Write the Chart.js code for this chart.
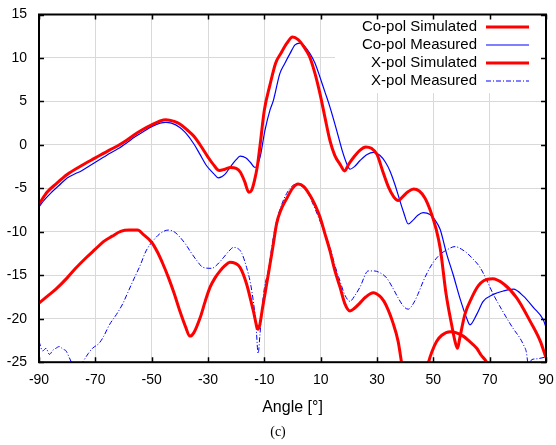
<!DOCTYPE html>
<html><head><meta charset="utf-8">
<script src="https://cdn.jsdelivr.net/npm/chart.js@4.4.0/dist/chart.umd.min.js"></script>
<style>html,body{margin:0;padding:0;background:#fff;}</style>
</head><body>
<canvas id="c" width="556" height="445"></canvas>
<script>
// ---- data (angles in degrees, values in dB) ----
const xTickValues = [-90, -70, -50, -30, -10, 10, 30, 50, 70, 90];
const yTickValues = [-25, -20, -15, -10, -5, 0, 5, 10, 15];
const seriesLabels = ['Co-pol Simulated', 'Co-pol Measured', 'X-pol Simulated', 'X-pol Measured'];

const coSimAngles = [-90,-87,-84,-80,-75,-70,-65,-62,-59,-56,-53,-50,-47,-45,-42,-40,-37,-35,-33,-30,-28,-26,-24,-22,-20,-18.5,-17,-15.5,-14.5,-13.5,-12.5,-11.5,-10,-8,-6,-4,-2,0,2,4,6,8,9.75,11.5,13.3,15,17,18.5,20,22,24,26,28,30,32,34,36,37.5,39,41,43,45,47,49,51,52.5,54.5,56.5,57.7,58.6,59.4,61.2,63.6,66,68,71,75,79.6,84.4,88,90];
const coSimValues = [-6.8,-5.4,-4.5,-3.4,-2.4,-1.5,-0.6,-0.1,0.5,1.2,1.8,2.3,2.75,2.9,2.7,2.4,1.6,1.0,0.1,-1.4,-2.3,-2.95,-2.8,-2.6,-2.7,-3.15,-4.2,-5.45,-5.2,-4.1,-2.5,0.0,4.0,6.9,9.4,10.6,11.7,12.4,12.1,11.3,10.2,8.2,5.9,3.2,0.5,-1.2,-2.3,-3.0,-2.2,-1.3,-0.6,-0.25,-0.4,-1.1,-3.0,-4.8,-6.0,-6.4,-6.0,-5.4,-5.07,-5.3,-6.1,-7.6,-9.7,-12.0,-17.1,-20.7,-22.6,-23.4,-22.2,-19.5,-17.6,-16.2,-15.6,-15.4,-16.0,-17.6,-20.3,-22.6,-24.5];

const coMeasAngles = [-90,-88,-86,-83,-80,-77,-75,-72,-70,-67,-65,-62,-59,-56,-53,-50,-47,-45,-43,-40,-38,-35,-33,-30.5,-28,-26.3,-24,-22,-20,-18.6,-16.5,-15,-13.3,-11.5,-9.8,-8,-6.8,-4.5,-2.7,-0.9,0.9,2.65,4.4,6.2,8,9.75,11.5,13.3,15.7,17.6,19.3,20.4,22,24,26.5,28.7,31,33,34.6,36.5,38.1,39.5,41.1,43,44.5,46.4,48.8,50.5,52.4,54.7,57.1,59.4,61.8,63,65.4,67.7,71.3,74.9,78.4,82,85.5,89,90];
const coMeasValues = [-7.1,-6.3,-5.6,-4.7,-3.8,-3.3,-3.0,-2.4,-2.0,-1.4,-1.0,-0.45,0.2,0.9,1.5,2.1,2.5,2.6,2.5,2.0,1.4,0.1,-1.0,-2.4,-3.3,-3.8,-3.4,-2.5,-1.7,-1.3,-1.5,-2.0,-2.6,-1.4,1.65,4.0,5.1,8.2,9.4,10.5,11.5,11.7,11.3,10.5,9.4,7.8,6.1,4.35,1.65,-0.6,-2.2,-2.8,-2.5,-1.8,-1.1,-0.85,-1.2,-2.0,-3.0,-4.7,-6.4,-7.8,-9.1,-8.6,-8.1,-7.8,-8.0,-8.6,-9.7,-12.5,-15.0,-17.6,-19.9,-20.7,-19.5,-18.0,-17.2,-16.8,-16.6,-17.4,-18.7,-20.1,-21.0];

const xSimAngles = [-90,-87,-84,-80,-77,-73,-70,-67,-64,-61,-58,-55,-53,-50,-48,-46,-44,-42,-40,-38,-36.4,-35,-32.8,-31,-29.3,-27.5,-25.7,-24,-22.2,-20.5,-18.6,-16.3,-13.9,-12.2,-10.4,-8.6,-7,-5.6,-4,-2.1,0,2,4,6.2,8,9.75,11.5,13.3,15,16.9,18.5,20.4,22,23.9,26,28.7,31,32.5,34,35.5,37.5,38.7,40,42,44.5,46.5,48.3,49.5,51.2,53,56,58,60.6,62.5,65.4,67,68.9,70.5,73];
const xSimValues = [-18.2,-17.4,-16.6,-15.3,-14.2,-12.9,-12.0,-11.1,-10.5,-9.95,-9.8,-9.8,-10.3,-11.2,-12.3,-13.7,-15.3,-17.1,-19.1,-20.9,-22.0,-21.6,-19.9,-18.0,-16.4,-15.3,-14.5,-13.9,-13.5,-13.6,-14.1,-16.0,-19.1,-21.2,-18.3,-14.9,-11.8,-9.0,-7.4,-6.2,-5.0,-4.5,-4.8,-5.8,-6.9,-8.3,-10.2,-12.2,-14.4,-16.4,-18.2,-19.1,-18.8,-18.2,-17.5,-17.0,-17.4,-18.0,-19.0,-20.3,-22.6,-25.0,-27.5,-30,-30,-27.5,-25.0,-23.8,-22.6,-21.9,-21.5,-21.6,-22.0,-22.5,-23.4,-24.2,-25.0,-26.5,-29];

const xMeasAngles = [-90,-88.7,-87.5,-86.3,-85,-84,-82.8,-81.5,-80.4,-79.2,-78,-76,-74.5,-72.5,-71,-68.6,-67,-65,-62.5,-60.3,-58.5,-56.7,-54,-52,-49.4,-47,-44.1,-42,-40,-38,-36.4,-34,-31.7,-28.7,-26.5,-24.6,-22.5,-21,-19.5,-18.1,-16.3,-15,-13.9,-13,-12.2,-11.6,-11,-10,-8.6,-7,-5.6,-4,-2.1,0,1.5,3,5,7,9.2,11,13.3,15,16.9,18.5,20.4,22,23.9,26.9,29,31,33.4,35.5,37.5,39.5,41.1,43,44.5,46.4,48,50,52.4,54.7,57.7,60,61.8,64,66.6,69,71.3,73.5,76,78.5,80.7,82,83,83.7,85,87,90];
const xMeasValues = [-22.6,-23.7,-23.4,-24.1,-23.6,-23.4,-23.2,-23.5,-23.7,-24.5,-25.3,-25.8,-25.0,-24.0,-23.4,-22.8,-22.0,-20.7,-19.5,-18.3,-17.0,-15.7,-13.8,-12.2,-11.0,-10.2,-9.8,-10.0,-10.6,-11.4,-12.2,-13.3,-14.1,-14.2,-13.7,-13.0,-12.2,-11.8,-11.9,-12.4,-14.1,-15.8,-18.0,-20.5,-24.0,-22.0,-19.5,-16.5,-14.5,-11.0,-8.7,-7.0,-5.6,-4.7,-4.5,-4.7,-5.3,-6.6,-8.3,-9.8,-11.8,-13.8,-15.7,-17.2,-18.0,-17.4,-16.4,-14.5,-14.5,-14.7,-15.3,-16.4,-17.6,-18.6,-18.9,-18.2,-17.2,-15.7,-14.6,-13.5,-12.6,-12.1,-11.7,-12.0,-12.4,-13.1,-14.1,-15.6,-17.2,-18.5,-19.9,-21.2,-22.2,-23.0,-23.8,-25.2,-24.7,-24.6,-24.4];

// ---- chart ----
const SANS = "'Liberation Sans', Arial, sans-serif";
function pts(a, v) { return a.map((x, i) => ({ x: x, y: v[i] })); }

const framePlugin = {
  id: 'framePlugin',
  beforeDatasetsDraw(chart) {
    const ctx = chart.ctx, ca = chart.chartArea;
    ctx.save();
    ctx.fillStyle = '#ffffff';
    ctx.fillRect(335, ca.top, ca.right - 335, 93 - ca.top);
    ctx.restore();
  },
  afterDatasetsDraw(chart) {
    const ctx = chart.ctx, ca = chart.chartArea;
    const xs = chart.scales.x, ys = chart.scales.y;
    ctx.save();
    ctx.strokeStyle = '#000';
    ctx.lineWidth = 1.5;
    ctx.beginPath();
    xTickValues.forEach(v => {
      const px = Math.round(xs.getPixelForValue(v)) + 0.5;
      ctx.moveTo(px, ca.bottom); ctx.lineTo(px, ca.bottom - 5);
      ctx.moveTo(px, ca.top); ctx.lineTo(px, ca.top + 5);
    });
    yTickValues.forEach(v => {
      const py = Math.round(ys.getPixelForValue(v)) + 0.5;
      ctx.moveTo(ca.left, py); ctx.lineTo(ca.left + 5, py);
      ctx.moveTo(ca.right, py); ctx.lineTo(ca.right - 5, py);
    });
    ctx.stroke();
    ctx.lineWidth = 2;
    ctx.strokeRect(ca.left, ca.top, ca.right - ca.left, ca.bottom - ca.top);
    ctx.font = '15px ' + SANS;
    ctx.textAlign = 'right';
    ctx.textBaseline = 'middle';
    chart.data.datasets.forEach((ds, i) => {
      const y = 27 + 18 * i;
      ctx.fillStyle = '#000';
      ctx.fillText(ds.label, 477, y);
      ctx.beginPath();
      ctx.strokeStyle = ds.borderColor;
      ctx.lineWidth = ds.borderWidth;
      ctx.setLineDash(ds.borderDash || []);
      ctx.moveTo(486, y); ctx.lineTo(529, y);
      ctx.stroke();
      ctx.setLineDash([]);
    });
    ctx.restore();
  }
};

new Chart(document.getElementById('c'), {
  type: 'line',
  data: {
    datasets: [
      { label: seriesLabels[0], data: pts(coSimAngles, coSimValues), borderColor: '#ff0000', borderWidth: 3 },
      { label: seriesLabels[1], data: pts(coMeasAngles, coMeasValues), borderColor: '#0000ff', borderWidth: 1.2 },
      { label: seriesLabels[2], data: pts(xSimAngles, xSimValues), borderColor: '#ff0000', borderWidth: 3 },
      { label: seriesLabels[3], data: pts(xMeasAngles, xMeasValues), borderColor: '#0000ff', borderWidth: 1, borderDash: [5, 2, 1, 2] }
    ]
  },
  options: {
    responsive: false,
    devicePixelRatio: 1,
    animation: false,
    layout: { padding: 0 },
    elements: { point: { radius: 0 }, line: { cubicInterpolationMode: 'monotone', fill: false } },
    plugins: {
      legend: { display: false },
      tooltip: { enabled: false },
      title: {
        display: true, text: '(c)', position: 'bottom', color: '#000',
        font: { family: "'Liberation Serif', 'Times New Roman', serif", size: 14, weight: 'normal' },
        padding: { top: 0, bottom: 4 }
      }
    },
    scales: {
      x: {
        type: 'linear', min: -90, max: 90,
        afterBuildTicks: (axis) => { axis.ticks = xTickValues.map(v => ({ value: v })); },
        afterFit: (scale) => { scale.height = 62; scale.paddingLeft = 0; scale.paddingRight = 10; },
        grid: { color: '#d9d9d9', lineWidth: 1, drawTicks: false },
        border: { display: false },
        ticks: { color: '#000', padding: 10, maxRotation: 0, autoSkip: false, font: { family: SANS, size: 14 } },
        title: { display: true, text: 'Angle [°]', color: '#000', font: { family: SANS, size: 16 }, padding: { top: 0, bottom: 7.5 } }
      },
      y: {
        min: -25, max: 15,
        afterBuildTicks: (axis) => { axis.ticks = yTickValues.map(v => ({ value: v })); },
        afterFit: (scale) => { scale.width = 39; scale.paddingTop = 14.5; scale.paddingBottom = 0; },
        grid: { color: '#d9d9d9', lineWidth: 1, drawTicks: false },
        border: { display: false },
        ticks: { color: '#000', padding: 12, font: { family: SANS, size: 14 } }
      }
    }
  },
  plugins: [framePlugin]
});
</script>
</body></html>
